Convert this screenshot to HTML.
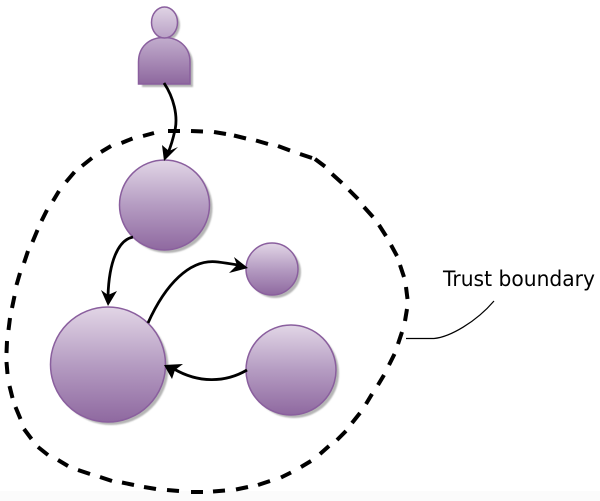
<!DOCTYPE html>
<html><head><meta charset="utf-8"><style>
html,body{margin:0;padding:0;background:#fff}
svg{display:block}
</style></head><body>
<svg width="600" height="501" viewBox="0 0 600 501" xmlns="http://www.w3.org/2000/svg">
<defs>
<linearGradient id="g" x1="0" y1="0" x2="0" y2="1">
<stop offset="0" stop-color="#e2d6e6"/><stop offset="0.5" stop-color="#b59cc2"/><stop offset="1" stop-color="#8f69a0"/>
</linearGradient>
<linearGradient id="h" x1="0" y1="0" x2="0" y2="1">
<stop offset="0" stop-color="#e0d4e5"/><stop offset="1" stop-color="#b9a1c6"/>
</linearGradient>
<linearGradient id="p" x1="0" y1="0" x2="0" y2="1">
<stop offset="0" stop-color="#c2adcd"/><stop offset="1" stop-color="#8e689f"/>
</linearGradient>
<filter id="b" x="-20%" y="-20%" width="140%" height="140%"><feGaussianBlur stdDeviation="0.9"/></filter>
</defs>
<rect width="600" height="501" fill="#fff"/>
<rect y="491" width="600" height="10" fill="#fbfbfb"/>
<path fill="none" stroke="#000" stroke-width="4" d="M168 131L180 131M191 131L203 131.500M214 132L226 134M234 135.500L246 138.500M256 140.500L268 144M278 146L290 150.500M300 154L312 158M315 159L325 166.500M332 174L342 183M349 190L358 199M364 207L373 217M379 225L386 236M391 245L397 256M400 265L404 277M406 287L407.500 299M407 309L405 321M402 332L398 344M394.500 354L389 365M384 375L378 385M372 394L366 404M360 413L352 423M346 431L337 440M329 446L320 454M311 461L301 467M291 472.500L281 477.500M270 481L258 485M248 487L236 489.500M225 490.500L213 491.500M203 492L191 492M179 491L167 490M156 489L144 487M134 485L122 482.500M112 481L100 477M90 474L78 470M68 466L58 460M48 455L38 447M31.500 439L24 429M20.500 419L15.500 407M12.500 398L9.500 386M7.500 374L6.500 362M6.500 353L7 341M8.500 330L10 318M12 308L14.500 296M16.500 285L20 273M24 263L28 251M32.500 242L37.500 230M41.500 221L47 210M53 201L59 191M66 182L74.500 172M82 166L92 158M101 152L111 146M121.500 143L132.500 138.500M143 136L154 133"/>
<g fill="#b5b5b5" filter="url(#b)">
<ellipse cx="167" cy="25" rx="13" ry="15.500"/>
<path d="M142 87V64C142 50 152 41 167 41C182 41 193 50 193 64V87Z"/>
<circle cx="167.500" cy="208" r="45"/>
<circle cx="275" cy="272" r="26"/>
<circle cx="111" cy="367.500" r="57.500"/>
<circle cx="294" cy="373" r="45"/>
</g>
<g stroke="#8a5f9e" stroke-width="1.500">
<path fill="url(#p)" d="M138.500 84V62C138.500 47 149 37.500 164 37.500C179 37.500 190 47 190 62V84Z"/>
<ellipse fill="url(#h)" cx="164.500" cy="22.500" rx="13" ry="15.500"/>
<circle fill="url(#g)" cx="164.500" cy="205" r="45"/>
<circle fill="url(#g)" cx="272" cy="269" r="26"/>
<circle fill="url(#g)" cx="108" cy="364.500" r="57.500"/>
<circle fill="url(#g)" cx="291" cy="370" r="45"/>
</g>
<g fill="none" stroke="#000" stroke-width="2.800">
<path d="M164 83C174 98 178 116 175 130C173 139 171 146 168 153"/>
<path d="M133 237C118 240 109 262 108 296"/>
<path d="M148 323C165 285 190 258 218 262C226 263 232 264 238 265"/>
<path d="M247 370C225 383 198 383 174 369"/>
</g>
<g fill="#000">
<path d="M164 161L162 145L169 151L178 147Z"/>
<path d="M108 306L101 290L108 295L117 291Z"/>
<path d="M248 268L234 257L237 265L229 273Z"/>
<path d="M164 365L183 364L175 370L172 379Z"/>
</g>
<path d="M406 338.500H434C450 337 476 322 494 301" fill="none" stroke="#000" stroke-width="1.200"/>
<text x="443" y="286" font-family="'DejaVu Sans','Liberation Sans',sans-serif" font-size="21" textLength="152" lengthAdjust="spacingAndGlyphs" fill="#000">Trust boundary</text>
</svg>
</body></html>
